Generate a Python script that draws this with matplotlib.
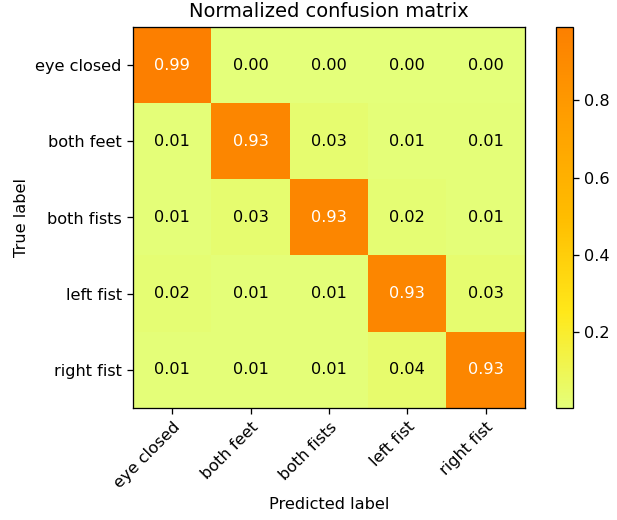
import numpy as np
import matplotlib
matplotlib.use("Agg")
import matplotlib.pyplot as plt

classes = ["eye closed", "both feet", "both fists", "left fist", "right fist"]
row_eye_closed = [0.99, 0.003, 0.003, 0.003, 0.003]
row_both_feet = [0.01, 0.93, 0.03, 0.01, 0.01]
row_both_fists = [0.01, 0.03, 0.93, 0.02, 0.01]
row_left_fist = [0.02, 0.01, 0.01, 0.93, 0.03]
row_right_fist = [0.01, 0.01, 0.01, 0.04, 0.93]

cm = np.array([row_eye_closed, row_both_feet, row_both_fists, row_left_fist, row_right_fist])

DPI = 116
fig = plt.figure(figsize=(617 / DPI, 520 / DPI), dpi=DPI)
ax = fig.add_axes([133/617, 112/520, 392/617, 381/520])
cax = fig.add_axes([556/617, 112/520, 17/617, 381/520])

im = ax.imshow(cm, interpolation="nearest", cmap="Wistia", aspect="auto")
cb = fig.colorbar(im, cax=cax)
cb.set_ticks([0.2, 0.4, 0.6, 0.8])

ax.set_title("Normalized confusion matrix", fontsize=12)
ticks = np.arange(len(classes))
ax.set_xticks(ticks)
ax.set_xticklabels(classes, rotation=45, ha="right", rotation_mode="anchor")
ax.set_yticks(ticks)
ax.set_yticklabels(classes)

thresh = cm.max() / 2.0
for i in range(cm.shape[0]):
    for j in range(cm.shape[1]):
        ax.text(j, i, format(cm[i, j], ".2f"), ha="center", va="center",
                color="white" if cm[i, j] > thresh else "black")

ax.set_ylabel("True label")
ax.set_xlabel("Predicted label")

fig.savefig("out.png", dpi=DPI)
